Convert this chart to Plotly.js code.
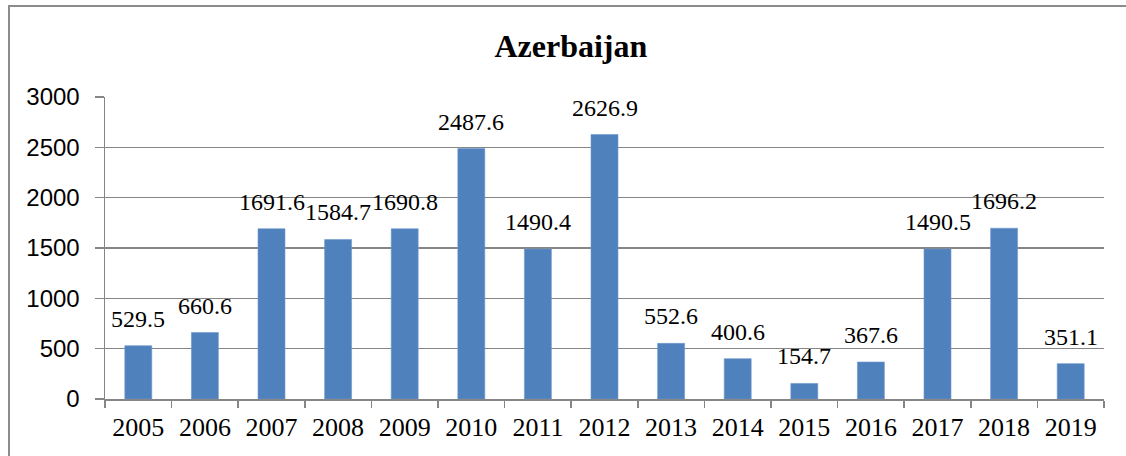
<!DOCTYPE html>
<html>
<head>
<meta charset="utf-8">
<script src="https://cdn.plot.ly/plotly-3.0.1.min.js"></script>
<style>
  html, body { margin: 0; padding: 0; overflow: hidden; background: #fff; }
  #frame { position: absolute; left: 8px; top: 5px; width: 2000px; height: 1000px; border: 2px solid #8c8c8c; box-sizing: border-box; }
  #chart { position: absolute; left: 0; top: 0; width: 1126px; height: 456px; }
</style>
</head>
<body>
<div id="frame"></div>
<div id="chart"></div>
<script>
const years = ['2005','2006','2007','2008','2009','2010','2011','2012','2013','2014','2015','2016','2017','2018','2019'];
const values = [529.5, 660.6, 1691.6, 1584.7, 1690.8, 2487.6, 1490.4, 2626.9, 552.6, 400.6, 154.7, 367.6, 1490.5, 1696.2, 351.1];
const labels = ['529.5','660.6','1691.6','1584.7','1690.8','2487.6','1490.4','2626.9','552.6','400.6','154.7','367.6','1490.5','1696.2','351.1'];
const yTicks = [0, 500, 1000, 1500, 2000, 2500, 3000];

const trace = {
  type: 'bar',
  x: years,
  y: values,
  marker: { color: '#4F81BD', line: { color: '#6f98cc', width: 0.6 } },
  hoverinfo: 'skip'
};

// category index i on a category axis = position of years[i]
const annotations = years.map((yr, i) => ({
  x: i, y: values[i], xref: 'x', yref: 'y',
  text: labels[i], showarrow: false,
  yanchor: 'bottom', xanchor: 'center', yshift: 12,
  font: { family: '"Liberation Serif", "Times New Roman", serif', size: 24, color: '#000' }
}));

const layout = {
  width: 1126, height: 456,
  paper_bgcolor: 'rgba(0,0,0,0)', plot_bgcolor: 'rgba(0,0,0,0)',
  margin: { l: 105, r: 22, t: 97, b: 57 },
  bargap: 0.595,
  showlegend: false,
  title: {
    text: '<b>Azerbaijan</b>',
    font: { family: '"Liberation Serif", "Times New Roman", serif', size: 32, color: '#000' },
    x: 0.507, xref: 'container', xanchor: 'center',
    y: 0.9, yref: 'container', yanchor: 'middle'
  },
  xaxis: {
    type: 'category',
    categoryorder: 'array', categoryarray: years,
    range: [-0.5, years.length - 0.5],
    tickson: 'boundaries',
    ticks: 'outside', ticklen: 7, tickcolor: '#868686', tickwidth: 1.5,
    showline: true, linecolor: '#868686', linewidth: 1.5,
    showgrid: false, zeroline: false,
    tickangle: 0,
    tickfont: { family: '"Liberation Serif", "Times New Roman", serif', size: 26, color: '#000' },
    ticklabelstandoff: 4
  },
  yaxis: {
    range: [0, 3000],
    tickvals: yTicks,
    ticktext: yTicks.map(String),
    ticks: 'outside', ticklen: 9, tickcolor: '#868686', tickwidth: 1.5,
    showline: true, linecolor: '#868686', linewidth: 1.5,
    showgrid: true, gridcolor: '#868686', gridwidth: 1.5,
    zeroline: false,
    tickfont: { family: '"Liberation Sans", Arial, sans-serif', size: 24, color: '#000' },
    ticklabelstandoff: 10
  },
  annotations: annotations
};

Plotly.newPlot('chart', [trace], layout, { displayModeBar: false, staticPlot: true });
</script>
</body>
</html>
